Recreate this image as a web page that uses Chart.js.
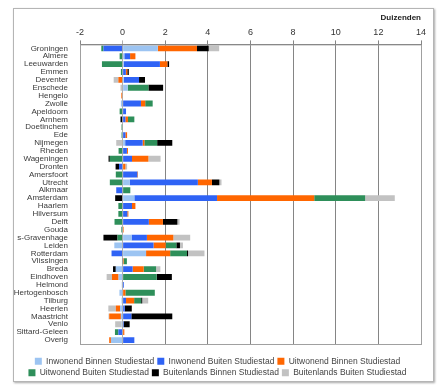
<!DOCTYPE html>
<html>
<head>
<meta charset="utf-8">
<script src="https://cdn.jsdelivr.net/npm/chart.js@4"></script>
<style>
  body { margin: 0; background: #fff; }
  #frame {
    position: absolute; left: 13px; top: 8px; width: 421px; height: 374px;
    box-sizing: border-box; border: 1px solid #b5b5b5;
    box-shadow: 1px 1px 2px rgba(0,0,0,0.35); background: #fff;
  }
  canvas { display: block; }
</style>
</head>
<body>
<div id="frame"><canvas id="myChart" width="419" height="372"></canvas></div>
<script>
const ctx = document.getElementById("myChart");

// Cities (top to bottom)
const cities = ["Groningen", "Almere", "Leeuwarden", "Emmen", "Deventer", "Enschede", "Hengelo",
  "Zwolle", "Apeldoorn", "Arnhem", "Doetinchem", "Ede", "Nijmegen", "Rheden", "Wageningen",
  "Dronten", "Amersfoort", "Utrecht", "Alkmaar", "Amsterdam", "Haarlem", "Hilversum", "Delft",
  "Gouda", "s-Gravenhage", "Leiden", "Rotterdam", "Vlissingen", "Breda", "Eindhoven", "Helmond",
  "Hertogenbosch", "Tilburg", "Heerlen", "Maastricht", "Venlo", "Sittard-Geleen", "Overig"];

// Values in thousands
const inwBinnen = [1.65, 0.08, 0.05, 0, 0.05, 0.24, 0, -0.08, 0, 0,
  0, 0, 0.12, 0, 0, 0, 0, 0.33, 0, 0.55,
  0, 0, 0, 0, 0.42, -0.39, 1.1, 0, -0.32, -0.19,
  -0.04, -0.15, -0.05, -0.12, -0.08, -0.05, 0, -0.55];
const inwBuiten = [-0.9, 0.27, 1.7, 0.15, 0.72, 0, 0, 0.86, 0.16, 0.13,
  0, 0.13, 0.82, 0.2, 0.44, -0.17, 0.69, 3.2, -0.3, 3.88,
  0.44, 0.22, 1.23, 0, 0.72, 1.45, -0.52, 0, 0.47, 0,
  0.06, 0, 0.16, 0.1, 0.41, 0.05, -0.2, 0.55];
const uitBinnen = [1.84, 0.25, 0.35, 0.07, -0.2, 0, -0.06, 0.2, 0, 0.12,
  0, 0.08, 0.08, 0.05, 0.77, 0.13, 0.03, 0.66, 0, 4.56,
  0.16, 0.05, 0.66, 0.05, 1.24, 0.57, 1.13, 0.05, 0.52, -0.31,
  0, 0.13, 0.38, -0.2, -0.55, 0, 0.08, -0.08];
const uitBuiten = [-0.1, -0.14, -0.97, -0.08, 0, 0.97, 0, 0.35, -0.14, 0.3,
  -0.05, -0.05, 0.6, -0.19, -0.6, 0, -0.32, -0.6, 0.36, 2.39,
  -0.2, -0.2, -0.38, -0.06, -0.24, 0.5, 0.79, 0.15, 0.58, 1.6,
  0, 1.38, 0.33, 0, 0, 0, -0.16, 0];
const buitBinnen = [0.55, 0, 0.08, 0.07, 0.28, 0.69, 0, 0, 0, -0.1,
  0, 0, 0.71, 0, -0.06, -0.16, 0, 0.35, 0, -0.35,
  0, 0, 0.68, 0, -0.66, 0.17, 0.05, -0.03, -0.13, 0.71,
  0, 0, 0.05, 0.33, 1.92, 0.28, 0, 0];
const buitBuiten = [0.49, 0, 0, 0, -0.22, -0.1, 0, 0, 0, 0,
  0, 0, -0.3, 0, 0.57, 0.08, 0, 0.1, 0, 1.39,
  0, 0, 0.1, 0, 0.79, 0.14, 0.77, 0, 0.2, -0.25,
  0, 0, 0.28, -0.35, -0.03, -0.3, 0, 0];

const seriesNames = ["Inwonend Binnen Studiestad", "Inwonend Buiten Studiestad", "Uitwonend Binnen Studiestad",
  "Uitwonend Buiten Studiestad", "Buitenlands Binnen Studiestad", "Buitenlands Buiten Studiestad"];
const seriesData = [inwBinnen, inwBuiten, uitBinnen, uitBuiten, buitBinnen, buitBuiten];
const colors = ["#9cc4f2", "#2f63f5", "#ff6600", "#2e8f5a", "#000000", "#c2c2c2"];

// draws a frame round the plot area
const plotBorder = {
  id: "plotBorder",
  afterDraw(chart) {
    const a = chart.chartArea;
    const c = chart.ctx;
    c.save();
    c.strokeStyle = "#a0a0a0";
    c.lineWidth = 1;
    c.strokeRect(a.left + 0.5, a.top + 0.5, a.right - a.left, a.bottom - a.top);
    c.restore();
  },
};

new Chart(ctx, {
  type: "bar",
  data: {
    labels: cities,
    datasets: seriesData.map((d, i) => ({
      label: seriesNames[i],
      data: d,
      backgroundColor: colors[i],
      borderWidth: 0,
      barPercentage: 1,
      categoryPercentage: 0.74,
    })),
  },
  options: {
    indexAxis: "y",
    responsive: false,
    animation: false,
    layout: { padding: { left: 0, right: 12, top: 0, bottom: -6 } },
    scales: {
      x: {
        position: "top",
        stacked: true,
        min: -2,
        max: 14,
        ticks: { stepSize: 2, color: "#333", font: { family: "Liberation Sans", size: 9 }, padding: 2 },
        grid: {
          color: (c) => (c.tick && c.tick.value === 0 ? "#b0b0b0" : "#858585"),
          tickLength: 4,
        },
        border: { color: "#666" },
      },
      // empty spacer below the plot, keeps the legend apart
      gap: {
        type: "linear",
        position: "bottom",
        axis: "x",
        ticks: { display: false },
        grid: { display: false },
        border: { display: false },
        afterFit: (scale) => { scale.height = 10; },
      },
      y: {
        stacked: true,
        afterFit: (scale) => { scale.width = 66; },
        ticks: { autoSkip: false, color: "#3a3a3a", font: { family: "Liberation Sans", size: 8 }, padding: 4 },
        grid: { display: false },
        border: { color: "#888" },
      },
    },
    plugins: {
      title: {
        display: true,
        text: "Duizenden",
        align: "end",
        color: "#222",
        font: { family: "Liberation Sans", size: 8, weight: "bold" },
        padding: { top: 4, bottom: 3 },
      },
      legend: {
        position: "bottom",
        labels: {
          boxWidth: 7,
          boxHeight: 7,
          padding: 3,
          color: "#444",
          font: { family: "Liberation Sans", size: 8.5 },
        },
      },
      tooltip: { enabled: false },
    },
  },
  plugins: [plotBorder],
});
</script>
</body>
</html>
